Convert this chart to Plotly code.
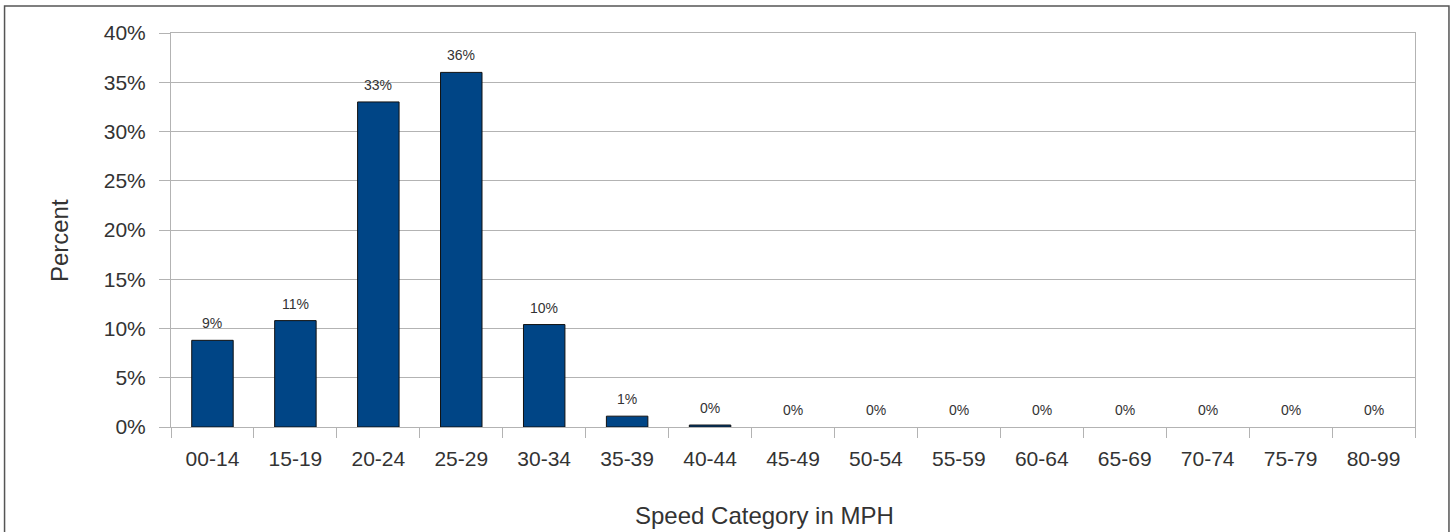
import plotly.graph_objects as go

categories = ["00-14", "15-19", "20-24", "25-29", "30-34", "35-39", "40-44",
              "45-49", "50-54", "55-59", "60-64", "65-69", "70-74", "75-79", "80-99"]
percent_values = [8.8, 10.8, 33.0, 36.0, 10.4, 1.1, 0.2, 0, 0, 0, 0, 0, 0, 0, 0]
y_ticks = [0, 5, 10, 15, 20, 25, 30, 35, 40]
y_tick_labels = [f"{t}%" for t in y_ticks]
value_labels = [f"{round(v)}%" for v in percent_values]
x_title = "Speed Category in MPH"
y_title = "Percent"

FONT = "Liberation Sans, Arial, sans-serif"
TXT = "#333333"
GRID = "#b3b3b3"

fig = go.Figure()
fig.add_trace(go.Bar(
    x=categories, y=percent_values,
    marker=dict(color="#004586",
                line=dict(color="#111111", width=[1 if v > 0 else 0 for v in percent_values])),
    hoverinfo="x+y",
))

annotations = [
    dict(x=c, y=v, xref="x", yref="y", text=t, showarrow=False,
         yanchor="middle", yshift=17, font=dict(family=FONT, size=14, color=TXT))
    for c, v, t in zip(categories, percent_values, value_labels)
]
# axis titles
annotations.append(dict(x=0.4767, y=-0.2246, xref="paper", yref="paper", text=x_title,
                        showarrow=False, xanchor="center", yanchor="middle",
                        font=dict(family=FONT, size=24, color=TXT)))
annotations.append(dict(x=-0.09, y=0.472, xref="paper", yref="paper", text=y_title,
                        showarrow=False, xanchor="center", yanchor="middle", textangle=-90,
                        font=dict(family=FONT, size=24, color=TXT)))

fig.update_layout(
    width=1453, height=532,
    margin=dict(l=171, r=38, t=33, b=104.5, pad=0, autoexpand=False),
    paper_bgcolor="white", plot_bgcolor="white",
    bargap=0.5,
    showlegend=False,
    font=dict(family=FONT, color=TXT),
    annotations=annotations,
    shapes=[dict(type="rect", xref="paper", yref="paper",
                 x0=-0.1338, x1=1.0273, y0=-0.3, y1=1.0685,
                 line=dict(color="#555555", width=1.5), fillcolor="rgba(0,0,0,0)",
                 layer="below")],
)

fig.update_xaxes(
    type="category", tickson="boundaries", automargin=False,
    ticks="outside", ticklen=10, tickcolor=GRID, tickwidth=1,
    ticklabelstandoff=13,
    showline=True, linecolor=GRID, linewidth=1, mirror=True,
    showgrid=False,
    tickfont=dict(family=FONT, size=21, color=TXT),
)
fig.update_yaxes(
    range=[0, 40], tickvals=y_ticks, ticktext=y_tick_labels, automargin=False,
    ticks="outside", ticklen=11, tickcolor=GRID, tickwidth=1,
    ticklabelstandoff=9,
    showline=True, linecolor=GRID, linewidth=1, mirror=True,
    showgrid=True, gridcolor=GRID, gridwidth=1,
    zeroline=False,
    tickfont=dict(family=FONT, size=21, color=TXT),
)

fig.write_html("out.html",
               config={"displayModeBar": False},
               post_script="document.body.style.margin='0';document.body.style.overflow='hidden';")
